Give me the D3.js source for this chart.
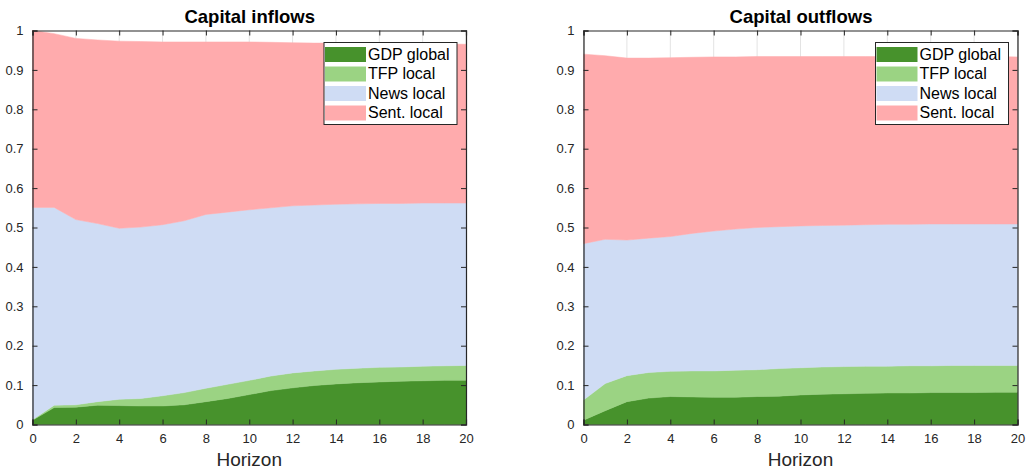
<!DOCTYPE html>
<html>
<head>
<meta charset="utf-8">
<script src="https://cdn.jsdelivr.net/npm/d3@7"></script>
<style>
  body { margin: 0; background: #fff; }
  text { font-family: "Liberation Sans", Arial, sans-serif; }
</style>
</head>
<body>
<div id="chart"></div>
<script>

var horizon = d3.range(0, 21);
var seriesNames = ["GDP global", "TFP local", "News local", "Sent. local"];
var xTicks = [0, 2, 4, 6, 8, 10, 12, 14, 16, 18, 20];
var yTicks = [0, 0.1, 0.2, 0.3, 0.4, 0.5, 0.6, 0.7, 0.8, 0.9, 1];

// capital inflows - share of each shock
var inGDP  = [0.011,0.043,0.044,0.049,0.048,0.047,0.047,0.050,0.058,0.066,0.076,0.086,0.093,0.099,0.103,0.106,0.108,0.110,0.111,0.112,0.112];
var inTFP  = [0.001,0.006,0.006,0.009,0.016,0.019,0.026,0.031,0.034,0.036,0.036,0.037,0.038,0.037,0.037,0.037,0.037,0.036,0.037,0.037,0.038];
var inNews = [0.539,0.502,0.470,0.452,0.434,0.435,0.434,0.436,0.441,0.437,0.433,0.427,0.424,0.421,0.419,0.417,0.416,0.415,0.414,0.413,0.412];
var inSent = [0.449,0.441,0.460,0.466,0.475,0.471,0.464,0.454,0.438,0.432,0.426,0.420,0.414,0.411,0.409,0.408,0.407,0.407,0.405,0.404,0.403];

// capital outflows
var outGDP  = [0.011,0.035,0.058,0.067,0.071,0.070,0.069,0.069,0.071,0.072,0.075,0.077,0.078,0.079,0.080,0.080,0.081,0.081,0.081,0.082,0.082];
var outTFP  = [0.051,0.069,0.066,0.065,0.064,0.066,0.067,0.069,0.068,0.070,0.069,0.069,0.069,0.069,0.068,0.069,0.068,0.069,0.069,0.068,0.068];
var outNews = [0.397,0.366,0.344,0.341,0.342,0.349,0.355,0.358,0.361,0.360,0.360,0.359,0.359,0.359,0.360,0.359,0.360,0.359,0.359,0.359,0.359];
var outSent = [0.481,0.466,0.462,0.457,0.454,0.447,0.442,0.437,0.434,0.432,0.430,0.429,0.428,0.427,0.426,0.426,0.425,0.425,0.425,0.425,0.424];

var colors = ["#47922c", "#9bd383", "#cfdcf4", "#ffabad"];

var width = 1029, height = 472;
var svg = d3.select("#chart").append("svg")
    .attr("width", width)
    .attr("height", height);

function makeRows(a, b, c, d) {
    return horizon.map(function(h, i) {
        var r = {h: h};
        r[seriesNames[0]] = a[i];
        r[seriesNames[1]] = b[i];
        r[seriesNames[2]] = c[i];
        r[seriesNames[3]] = d[i];
        return r;
    });
}

function drawPanel(left, right, title, rows) {
    var top = 30.5, bottom = 424.5;
    var xScale = d3.scaleLinear().domain([0, 20]).range([left, right]);
    var yScale = d3.scaleLinear().domain([0, 1]).range([bottom, top]);
    var g = svg.append("g");

    // grid (behind the areas)
    g.append("g").selectAll("line").data(xTicks).enter().append("line")
        .attr("x1", function(d) { return xScale(d); })
        .attr("x2", function(d) { return xScale(d); })
        .attr("y1", top).attr("y2", bottom)
        .attr("stroke", "#e3e3e3").attr("stroke-width", 1);

    var stacked = d3.stack().keys(seriesNames)(rows);
    var area = d3.area()
        .x(function(d) { return xScale(d.data.h); })
        .y0(function(d) { return yScale(d[0]); })
        .y1(function(d) { return yScale(d[1]); });

    g.selectAll("path.layer").data(stacked).enter().append("path")
        .attr("class", "layer")
        .attr("d", area)
        .attr("fill", function(d, i) { return colors[i]; })
        .attr("stroke", function(d, i) { return colors[i]; })
        .attr("stroke-width", 0.5);

    // axes, ticks inward on all sides
    var tick = 5;
    g.append("g")
        .attr("transform", "translate(0," + bottom + ")")
        .call(d3.axisBottom(xScale).tickValues(xTicks).tickSize(-tick).tickPadding(9).tickFormat(d3.format("d")));
    g.append("g")
        .attr("transform", "translate(0," + top + ")")
        .call(d3.axisTop(xScale).tickValues(xTicks).tickSize(-tick).tickFormat(""));
    g.append("g")
        .attr("transform", "translate(" + left + ",0)")
        .call(d3.axisLeft(yScale).tickValues(yTicks).tickSize(-tick).tickPadding(9)
            .tickFormat(function(d) { return d === 0 || d === 1 ? d3.format("d")(d) : d3.format(".1f")(d); }));
    g.append("g")
        .attr("transform", "translate(" + right + ",0)")
        .call(d3.axisRight(yScale).tickValues(yTicks).tickSize(-tick).tickFormat(""));

    g.selectAll(".domain").attr("stroke", "#262626").attr("stroke-width", 1.2);
    g.selectAll(".tick line").attr("stroke", "#262626");
    g.selectAll(".tick text").attr("fill", "#262626").style("font-size", "13px")
        .style("font-family", "'Liberation Sans', Arial, sans-serif");

    g.append("text")
        .attr("x", (left + right) / 2 + 0.5).attr("y", 23)
        .attr("text-anchor", "middle")
        .style("font-size", "18.5px").style("font-weight", "bold")
        .attr("fill", "#000")
        .text(title);

    g.append("text")
        .attr("x", (left + right) / 2).attr("y", 466)
        .attr("text-anchor", "middle")
        .style("font-size", "19px")
        .attr("fill", "#262626")
        .text("Horizon");

    // legend
    var lx = right - 142, ly = 42.5;
    var leg = g.append("g").attr("transform", "translate(" + lx + "," + ly + ")");
    leg.append("rect")
        .attr("width", 133).attr("height", 82)
        .attr("fill", "#fff").attr("stroke", "#262626").attr("stroke-width", 1);
    seriesNames.forEach(function(name, i) {
        leg.append("rect")
            .attr("x", 1).attr("y", 4.5 + i * 19.5)
            .attr("width", 41).attr("height", 15)
            .attr("fill", colors[i]);
        leg.append("text")
            .attr("x", 44).attr("y", 17 + i * 19.5)
            .style("font-size", "16px")
            .attr("fill", "#000")
            .text(name);
    });
}

drawPanel(32.5, 466, "Capital inflows", makeRows(inGDP, inTFP, inNews, inSent));
drawPanel(583.5, 1017.5, "Capital outflows", makeRows(outGDP, outTFP, outNews, outSent));

</script>
</body>
</html>
